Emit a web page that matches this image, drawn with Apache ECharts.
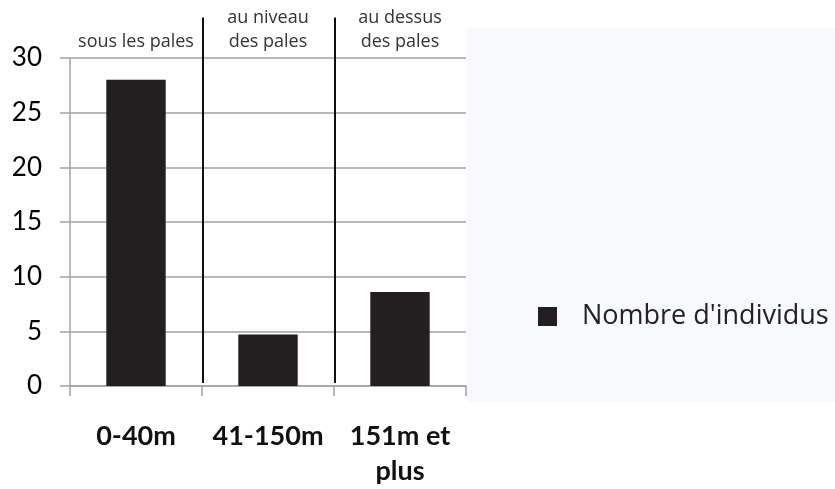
<!DOCTYPE html>
<html>
<head>
<meta charset="utf-8">
<script src="https://cdn.jsdelivr.net/npm/echarts@6/dist/echarts.min.js"></script>
<style>
  html, body { margin: 0; padding: 0; background: #fff; }
  #chart { width: 835px; height: 489px; }
</style>
</head>
<body>
<div id="chart"></div>
<script>
// hauteur de vol des individus
const categories = ['0-40m', '41-150m', '151m et\nplus'];
const zones = ['sous les pales', 'au niveau\ndes pales', 'au dessus\ndes pales'];
const counts = [28, 4.7, 8.6];
const seriesName = "Nombre d'individus";

const chart = echarts.init(document.getElementById('chart'));
const gridColor = '#a3a3a3';

const option = {
  backgroundColor: '#ffffff',
  animation: false,
  grid: { left: 70, right: 369, top: 58, bottom: 101, containLabel: false },
  legend: {
    data: [seriesName],
    left: 533, top: 298,
    icon: 'rect', itemWidth: 19, itemHeight: 19,
    textStyle: { fontFamily: 'Open Sans', fontSize: 27, color: '#222', padding: [0, 0, 0, 20] }
  },
  xAxis: [
    {
      type: 'category',
      data: categories,
      axisLine: { lineStyle: { color: gridColor, width: 1.5 } },
      axisTick: { show: true, length: 10, lineStyle: { color: gridColor, width: 1.5 } },
      axisLabel: {
        interval: 0, margin: 33, fontFamily: 'Lato', fontWeight: 'bold', fontSize: 27,
        color: '#111', lineHeight: 35
      }
    },
    {
      type: 'category',
      position: 'top',
      data: zones,
      axisLine: { show: false },
      axisTick: { show: false },
      axisLabel: {
        interval: 0, margin: 4, fontFamily: 'Open Sans', fontSize: 18, color: '#333', lineHeight: 24
      }
    }
  ],
  yAxis: {
    type: 'value',
    min: 0, max: 30, interval: 5,
    axisLine: { show: true, lineStyle: { color: gridColor, width: 1.5 } },
    axisTick: { show: true, length: 10, lineStyle: { color: gridColor, width: 1.5 } },
    splitLine: { lineStyle: { color: gridColor, width: 1.5 } },
    axisLabel: { margin: 28, fontFamily: 'Lato', fontSize: 26, color: '#000' }
  },
  series: [
    {
      name: seriesName,
      type: 'bar',
      xAxisIndex: 0,
      barWidth: '45%',
      data: counts,
      itemStyle: { color: '#231f20' }
    }
  ]
};
chart.setOption(option);

// séparateurs verticaux entre les zones + fond clair de la légende
const graphics = [{
  type: 'rect', z: -1,
  shape: { x: 467, y: 28, width: 368, height: 374 },
  style: { fill: '#f7f9fc' }
}];
const yBottom = chart.convertToPixel({ yAxisIndex: 0 }, 0) - 3;
const yTop = chart.convertToPixel({ yAxisIndex: 0 }, 33.7);
for (let i = 0; i < categories.length - 1; i++) {
  const a = chart.convertToPixel({ xAxisIndex: 0 }, i);
  const b = chart.convertToPixel({ xAxisIndex: 0 }, i + 1);
  const x = Math.round((a + b) / 2) + 1;
  graphics.push({
    type: 'line', z: 10,
    shape: { x1: x, y1: yTop, x2: x, y2: yBottom },
    style: { stroke: '#111', lineWidth: 2 }
  });
}
chart.setOption({ graphic: graphics });

window.addEventListener('resize', () => chart.resize());
</script>
</body>
</html>
